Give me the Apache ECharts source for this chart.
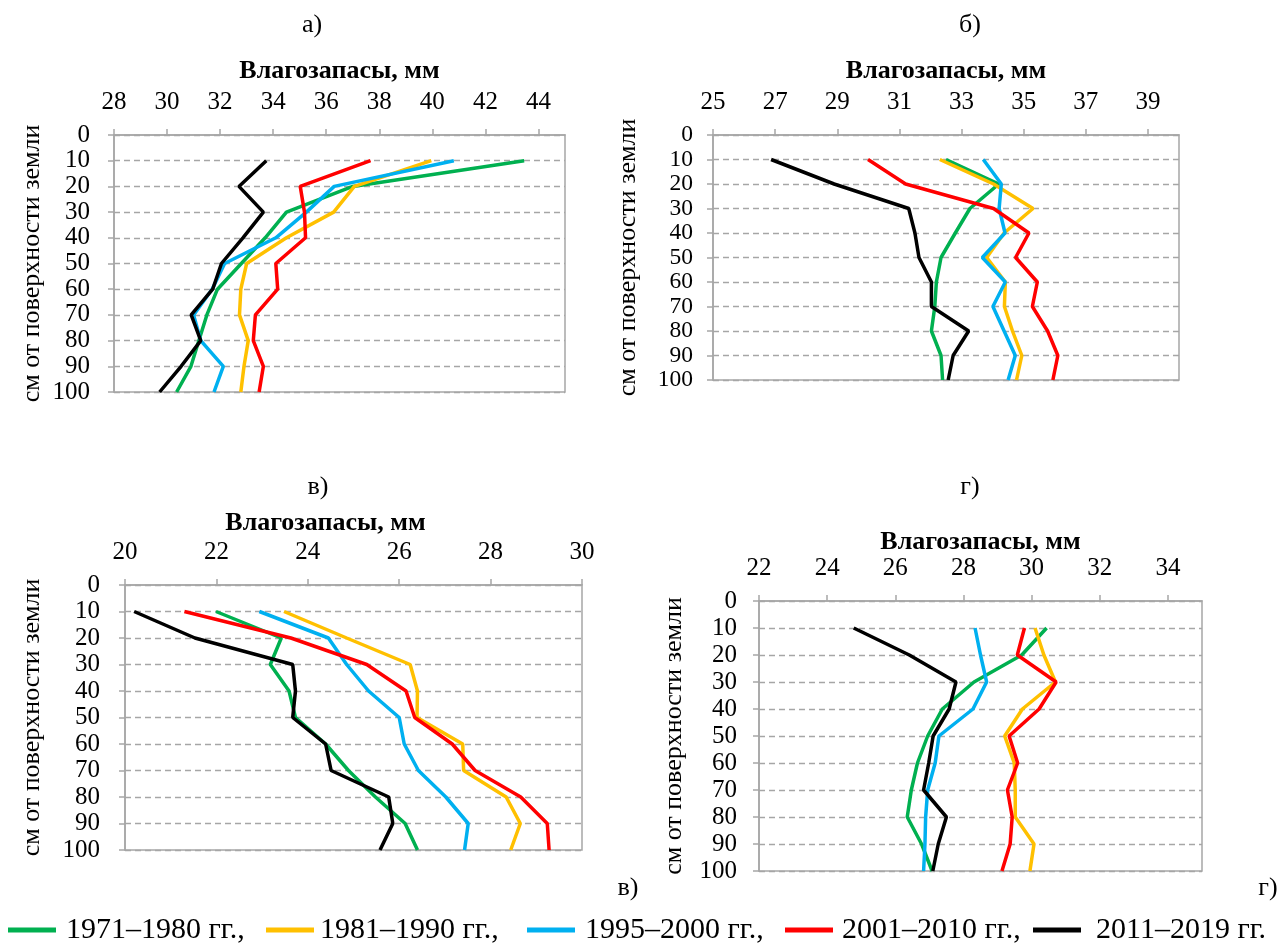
<!DOCTYPE html>
<html>
<head>
<meta charset="utf-8">
<script src="https://cdn.jsdelivr.net/npm/echarts@6/dist/echarts.min.js"></script>
<style>
html,body{margin:0;padding:0;background:#fff;}
#c{width:1286px;height:946px;}
</style>
</head>
<body>
<div id="c"></div>
<script>
// Depths (cm from surface)
const depths = [10, 20, 30, 40, 50, 60, 70, 80, 90, 100];
const seriesNames = ['1971–1980 гг.,', '1981–1990 гг.,', '1995–2000 гг.,', '2001–2010 гг.,', '2011–2019 гг.'];
const seriesColors = ['#00B050', '#FFC000', '#00B0F0', '#FF0000', '#000000'];

// Panel а)
const a_1971 = [43.46, 37.0, 34.5, 33.7, 32.8, 31.9, 31.5, 31.2, 30.9, 30.36];
const a_1981 = [39.96, 37.06, 36.28, 34.5, 33.0, 32.78, 32.73, 33.06, 32.9, 32.78];
const a_1995 = [40.81, 36.3, 35.25, 34.1, 32.17, 31.7, 31.0, 31.27, 32.12, 31.77];
const a_2001 = [37.67, 35.02, 35.18, 35.22, 34.1, 34.17, 33.33, 33.25, 33.63, 33.47];
const a_2011 = [33.74, 32.71, 33.63, 32.86, 32.05, 31.72, 30.91, 31.27, 30.53, 29.72];
// Panel б)
const b_1971 = [32.5, 34.2, 33.27, 32.8, 32.34, 32.19, 32.14, 32.03, 32.34, 32.39];
const b_1981 = [32.3, 34.03, 35.3, 34.37, 33.81, 34.41, 34.38, 34.64, 34.94, 34.77];
const b_1995 = [33.7, 34.28, 34.21, 34.4, 33.67, 34.41, 34.01, 34.37, 34.73, 34.5];
const b_2001 = [29.99, 31.2, 34.03, 35.17, 34.74, 35.44, 35.28, 35.77, 36.1, 35.94];
const b_2011 = [26.87, 28.9, 31.3, 31.5, 31.63, 32.03, 32.03, 33.23, 32.73, 32.57];
// Panel в)
const c_1971 = [21.99, 23.42, 23.18, 23.59, 23.73, 24.39, 24.89, 25.48, 26.13, 26.4];
const c_1981 = [23.48, 24.85, 26.24, 26.4, 26.39, 27.39, 27.41, 28.34, 28.65, 28.44];
const c_1995 = [22.94, 24.45, 24.85, 25.33, 26.0, 26.11, 26.42, 27.02, 27.51, 27.43];
const c_2001 = [21.3, 23.63, 25.29, 26.15, 26.34, 27.16, 27.66, 28.66, 29.24, 29.28];
const c_2011 = [20.2, 21.53, 23.67, 23.73, 23.67, 24.39, 24.51, 25.77, 25.86, 25.58];
// Panel г)
const d_1971 = [30.44, 29.71, 28.31, 27.38, 26.95, 26.65, 26.47, 26.35, 26.77, 27.08];
const d_1981 = [30.1, 30.36, 30.7, 29.73, 29.21, 29.49, 29.52, 29.52, 30.07, 29.95];
const d_1995 = [28.34, 28.5, 28.68, 28.28, 27.28, 27.17, 26.95, 26.89, 26.87, 26.83];
const d_2001 = [29.79, 29.58, 30.72, 30.22, 29.34, 29.59, 29.29, 29.43, 29.37, 29.13];
const d_2011 = [24.78, 26.41, 27.78, 27.58, 27.11, 26.98, 26.83, 27.5, 27.26, 27.1];

// x-axis ranges and tick step per panel
const xRanges = [[28, 45], [25, 40], [20, 30], [22, 35]];
const xStep = 2;
const xAxisTitle = 'Влагозапасы, мм';
const yAxisTitle = 'см от поверхности земли';
const panelLetters = ['а)', 'б)', 'в)', 'г)', 'в)', 'г)'];

const panelData = [
  [a_1971, a_1981, a_1995, a_2001, a_2011],
  [b_1971, b_1981, b_1995, b_2001, b_2011],
  [c_1971, c_1981, c_1995, c_2001, c_2011],
  [d_1971, d_1981, d_1995, d_2001, d_2011]
];

// layout (pixels)
const grids = [
  {left: 114, top: 135, width: 451, height: 257},
  {left: 713, top: 135, width: 466, height: 245},
  {left: 125, top: 585, width: 457, height: 265},
  {left: 759, top: 601, width: 443, height: 270}
];
const yNameGap = [69, 72, 80, 72];
const yLabelMargin = [24, 20, 25, 22];
const yLabelSize = [25, 23.5, 25, 25];
const xNameGap = [51, 51, 49, 45];
const xNamePad = [[0, 0, 0, 0], [0, 0, 0, 0], [0, 56, 0, 0], [0, 0, 0, 0]];

const FONT = '"Liberation Serif", "Times New Roman", serif';
const axisGray = '#A6A6A6';

const option = {
  animation: false,
  backgroundColor: '#fff',
  textStyle: {fontFamily: FONT, color: '#000'},
  grid: grids.map(g => Object.assign({show: true, borderColor: axisGray, borderWidth: 1.5, containLabel: false}, g)),
  xAxis: grids.map((g, i) => ({
    type: 'value', gridIndex: i, position: 'top',
    min: xRanges[i][0], max: xRanges[i][1], interval: xStep,
    name: xAxisTitle, nameLocation: 'middle', nameGap: xNameGap[i],
    nameTextStyle: {fontFamily: FONT, fontSize: 26, fontWeight: 'bold', color: '#000', padding: xNamePad[i]},
    axisLine: {show: true, lineStyle: {color: axisGray, width: 1.5}},
    axisTick: {show: true, inside: false, length: 6, lineStyle: {color: axisGray, width: 1.5}},
    axisLabel: {fontFamily: FONT, fontSize: 25, color: '#000', margin: 20, hideOverlap: false,
      showMinLabel: true, showMaxLabel: (xRanges[i][1] - xRanges[i][0]) % xStep === 0},
    splitLine: {show: false}
  })),
  yAxis: grids.map((g, i) => ({
    type: 'value', gridIndex: i, inverse: true, min: 0, max: 100, interval: 10,
    name: yAxisTitle, nameLocation: 'middle', nameGap: yNameGap[i], nameRotate: 90,
    nameTextStyle: {fontFamily: FONT, fontSize: 26, color: '#000'},
    axisLine: {show: true, lineStyle: {color: axisGray, width: 1.5}},
    axisTick: {show: true, inside: false, length: 6, lineStyle: {color: axisGray, width: 1.5}},
    axisLabel: {fontFamily: FONT, fontSize: yLabelSize[i], color: '#000', margin: yLabelMargin[i], lineHeight: 20,
      hideOverlap: false, showMinLabel: true, showMaxLabel: true},
    splitLine: {show: true, lineStyle: {color: axisGray, type: [6, 4], width: 1.3}}
  })),
  series: [],
  legend: [],
  graphic: []
};

panelData.forEach((arrs, p) => {
  arrs.forEach((vals, s) => {
    option.series.push({
      type: 'line', name: seriesNames[s], xAxisIndex: p, yAxisIndex: p,
      data: vals.map((v, k) => [v, depths[k]]),
      symbol: 'none', lineStyle: {color: seriesColors[s], width: 3.5}, itemStyle: {color: seriesColors[s]},
      z: 2 + s
    });
  });
});

// panel letters
const letterPos = [[312, 25], [970, 25], [318, 487], [970, 487], [628, 888], [1268, 888]];
letterPos.forEach((pos, i) => {
  option.graphic.push({type: 'text', x: pos[0], y: pos[1],
    style: {text: panelLetters[i], font: '26px ' + FONT, fill: '#000', align: 'center', verticalAlign: 'middle'}});
});

// legends
const legendLeft = [8, 266, 527, 785, 1033];
const legendTextPad = [5, 1, 5, 4, 10];
seriesNames.forEach((n, i) => {
  option.legend.push({
    data: [n], left: legendLeft[i], top: 915, icon: 'rect', itemWidth: 48, itemHeight: 5,
    selectedMode: false, padding: 0,
    textStyle: {fontFamily: FONT, fontSize: 30, color: '#000', padding: [0, 0, 0, legendTextPad[i]]}
  });
});

const chart = echarts.init(document.getElementById('c'), null, {renderer: 'canvas'});
chart.setOption(option);
</script>
</body>
</html>
